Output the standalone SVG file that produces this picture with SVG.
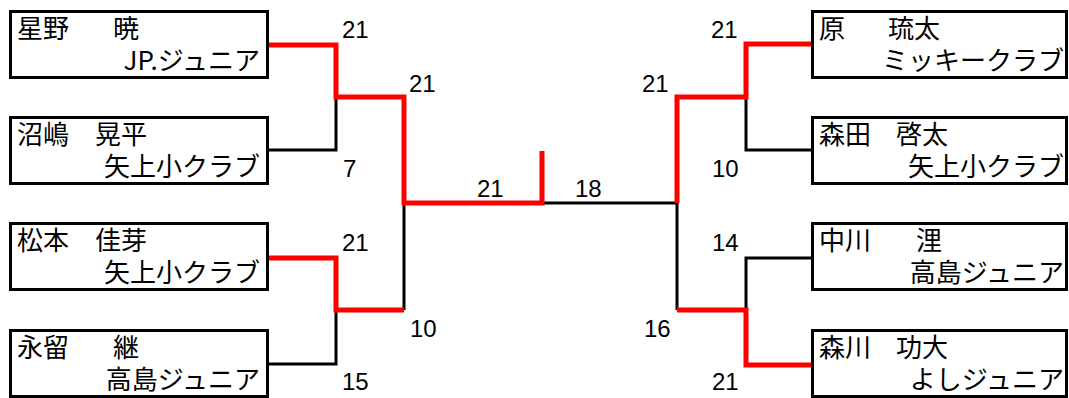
<svg xmlns="http://www.w3.org/2000/svg" width="1069" height="398" viewBox="0 0 1069 398">
<style>
.box{fill:#fff;stroke:#000;stroke-width:3}
.nm{font-family:"Noto Sans CJK JP","Liberation Sans",sans-serif;font-size:26px;fill:#000}
.cl{text-anchor:end}
.sc{font-family:"Liberation Sans",Arial,sans-serif;font-size:24px;fill:#000}
.bk{fill:none;stroke:#000;stroke-width:3}
.rd{fill:none;stroke:#f00;stroke-width:5}
</style>
<rect width="1069" height="398" fill="#fff"/>
<g id="connectors">
<path class="bk" d="M268,150 H336 V97"/>
<path class="bk" d="M268,364 H336 V310"/>
<path class="bk" d="M404,310 V203"/>
<path class="bk" d="M542,203 H677 V310"/>
<path class="bk" d="M812,150 H746 V97"/>
<path class="bk" d="M812,258 H746 V310"/>
<path class="rd" d="M268,45 H336 V97 H404 V203 H542 V151"/>
<path class="rd" d="M268,258 H336 V310 H404"/>
<path class="rd" d="M812,44 H746 V97 H677 V203"/>
<path class="rd" d="M812,365 H746 V310 H677"/>
</g>
<g id="scores">
<text class="sc" x="342" y="38">21</text>
<text class="sc" x="409" y="92">21</text>
<text class="sc" x="343" y="177">7</text>
<text class="sc" x="342" y="251">21</text>
<text class="sc" x="410" y="337">10</text>
<text class="sc" x="342" y="390">15</text>
<text class="sc" x="477" y="197">21</text>
<text class="sc" x="575" y="197">18</text>
<text class="sc" x="711" y="38">21</text>
<text class="sc" x="642" y="92">21</text>
<text class="sc" x="712" y="177">10</text>
<text class="sc" x="712" y="251">14</text>
<text class="sc" x="644" y="337">16</text>
<text class="sc" x="712" y="390">21</text>
</g>
<g id="p1"><rect class="box" x="10.5" y="11.5" width="257" height="66"/>
<text class="nm"><tspan x="17" y="38">星野</tspan><tspan x="113" y="38">暁</tspan><tspan class="cl" x="260" y="70">JP.ジュニア</tspan></text></g>
<g id="p2"><rect class="box" x="10.5" y="117.5" width="257" height="66"/>
<text class="nm"><tspan x="17" y="144">沼嶋</tspan><tspan x="95" y="144">晃平</tspan><tspan class="cl" x="260" y="176">矢上小クラブ</tspan></text></g>
<g id="p3"><rect class="box" x="10.5" y="223.5" width="257" height="66"/>
<text class="nm"><tspan x="17" y="250">松本</tspan><tspan x="95" y="250">佳芽</tspan><tspan class="cl" x="260" y="282">矢上小クラブ</tspan></text></g>
<g id="p4"><rect class="box" x="10.5" y="330.5" width="257" height="66"/>
<text class="nm"><tspan x="17" y="357">永留</tspan><tspan x="113" y="357">継</tspan><tspan class="cl" x="260" y="389">高島ジュニア</tspan></text></g>
<g id="p5"><rect class="box" x="812.5" y="11.5" width="254" height="66"/>
<text class="nm"><tspan x="819" y="38">原</tspan><tspan x="888" y="38">琉太</tspan><tspan class="cl" x="1064" y="70">ミッキークラブ</tspan></text></g>
<g id="p6"><rect class="box" x="812.5" y="117.5" width="254" height="66"/>
<text class="nm"><tspan x="819" y="144">森田</tspan><tspan x="896" y="144">啓太</tspan><tspan class="cl" x="1064" y="176">矢上小クラブ</tspan></text></g>
<g id="p7"><rect class="box" x="812.5" y="223.5" width="254" height="66"/>
<text class="nm"><tspan x="819" y="250">中川</tspan><tspan x="916" y="250">浬</tspan><tspan class="cl" x="1064" y="282">高島ジュニア</tspan></text></g>
<g id="p8"><rect class="box" x="812.5" y="330.5" width="254" height="66"/>
<text class="nm"><tspan x="819" y="357">森川</tspan><tspan x="896" y="357">功大</tspan><tspan class="cl" x="1064" y="389">よしジュニア</tspan></text></g>
</svg>
